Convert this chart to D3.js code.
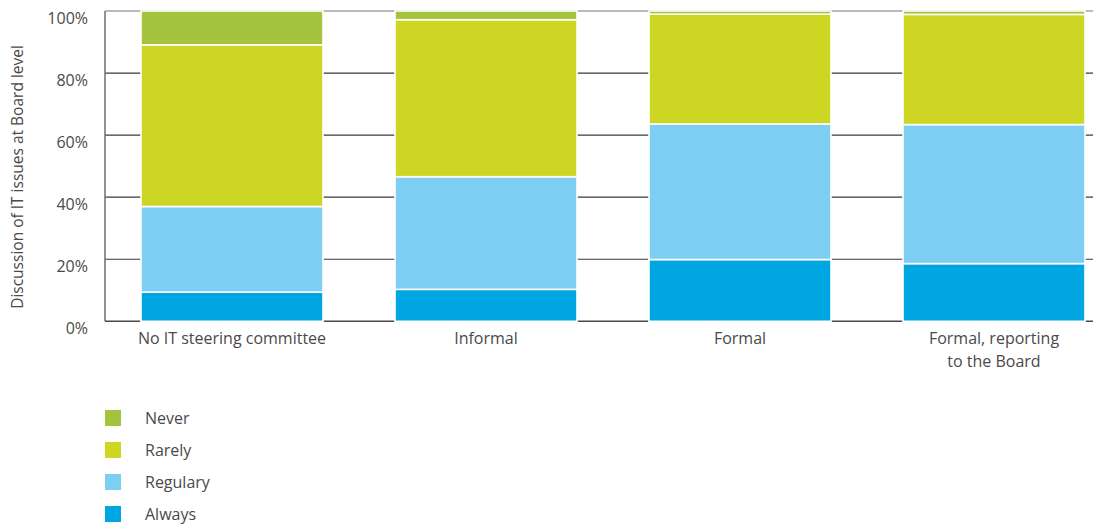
<!DOCTYPE html>
<html>
<head>
<meta charset="utf-8">
<script src="https://cdn.jsdelivr.net/npm/d3@7"></script>
<style>
  html, body { margin: 0; padding: 0; background: #fff; }
  svg { display: block; font-family: "Open Sans", "Noto Sans", sans-serif; }
</style>
</head>
<body>
<svg id="chart" width="1093" height="524"></svg>
<script>
// Committee type for each column
const categories = [
  ["No IT steering committee"],
  ["Informal"],
  ["Formal"],
  ["Formal, reporting", "to the Board"]
];
// Share of respondents (%) per discussion frequency, stacked bottom to top
const series = ["Always", "Regulary", "Rarely", "Never"];
const always   = [9.4, 10.3, 19.9, 18.6];
const regulary = [27.6, 36.3, 43.7, 44.8];
const rarely   = [52.1, 50.6, 35.4, 35.5];
const never    = [10.9, 2.8, 1.0, 1.1];
const colors   = ["#00a6e1", "#7ecef3", "#cdd623", "#a3c43c"];
const yTicks   = [0, 20, 40, 60, 80, 100];
const legendOrder = ["Never", "Rarely", "Regulary", "Always"];

const svg = d3.select("#chart");
const W = 1093;
const plotLeft = 105, plotTop = 11, plotBottom = 321.3;

const rows = categories.map((c, i) => ({
  key: c.join(" "),
  lines: c,
  Always: always[i], Regulary: regulary[i], Rarely: rarely[i], Never: never[i]
}));

const x = d3.scaleBand()
  .domain(rows.map(d => d.key))
  .range([plotLeft, plotLeft + 4 * 254])
  .paddingInner(0.2835)
  .paddingOuter(0.14175);

const y = d3.scaleLinear().domain([0, 100]).range([plotBottom, plotTop]);
const color = d3.scaleOrdinal().domain(series).range(colors);

// Gridlines
svg.append("g")
  .selectAll("line")
  .data(yTicks.filter(t => t > 0))
  .join("line")
  .attr("x1", plotLeft).attr("x2", W)
  .attr("y1", d => y(d)).attr("y2", d => y(d))
  .attr("stroke", d => d === 100 ? "#777" : "#3a3a3a").attr("stroke-width", 1.2);

// Axis lines
svg.append("line")
  .attr("x1", plotLeft).attr("x2", plotLeft).attr("y1", plotTop).attr("y2", plotBottom)
  .attr("stroke", "#6e6e6e").attr("stroke-width", 1.5);
svg.append("line")
  .attr("x1", plotLeft).attr("x2", W).attr("y1", plotBottom).attr("y2", plotBottom)
  .attr("stroke", "#4a4a4a").attr("stroke-width", 1.5);

// Stacked bars
const stack = d3.stack().keys(series)(rows);
svg.append("g")
  .selectAll("g")
  .data(stack)
  .join("g")
  .attr("fill", d => color(d.key))
  .selectAll("rect")
  .data(d => d)
  .join("rect")
  .attr("x", d => x(d.data.key))
  .attr("width", x.bandwidth())
  .attr("y", d => y(d[1]))
  .attr("height", d => y(d[0]) - y(d[1]))
  .attr("stroke", "#fff")
  .attr("stroke-width", 1.6);

// Y tick labels
svg.append("g")
  .selectAll("text")
  .data(yTicks)
  .join("text")
  .attr("x", 88)
  .attr("y", d => y(d) + 13)
  .attr("text-anchor", "end")
  .attr("font-size", 16)
  .attr("fill", "#4a4a4a")
  .text(d => d + "%");

// Y axis title
svg.append("text")
  .attr("transform", "translate(23,177) rotate(-90)")
  .attr("text-anchor", "middle")
  .attr("font-size", 15.5)
  .attr("fill", "#4a4a4a")
  .text("Discussion of IT issues at Board level");

// Category labels
const cat = svg.append("g")
  .selectAll("text")
  .data(rows)
  .join("text")
  .attr("y", 344)
  .attr("text-anchor", "middle")
  .attr("font-size", 16)
  .attr("fill", "#4a4a4a");
cat.selectAll("tspan")
  .data(d => d.lines.map((l, i) => ({ l, i, cx: x(d.key) + x.bandwidth() / 2 })))
  .join("tspan")
  .attr("x", d => d.cx)
  .attr("dy", d => d.i === 0 ? 0 : 23)
  .text(d => d.l);

// Legend
const lg = svg.append("g")
  .selectAll("g")
  .data(legendOrder)
  .join("g")
  .attr("transform", (d, i) => `translate(105,${410 + i * 32})`);
lg.append("rect")
  .attr("width", 16).attr("height", 16)
  .attr("fill", d => color(d));
lg.append("text")
  .attr("x", 40).attr("y", 13.5)
  .attr("font-size", 16)
  .attr("fill", "#4a4a4a")
  .text(d => d);
</script>
</body>
</html>
